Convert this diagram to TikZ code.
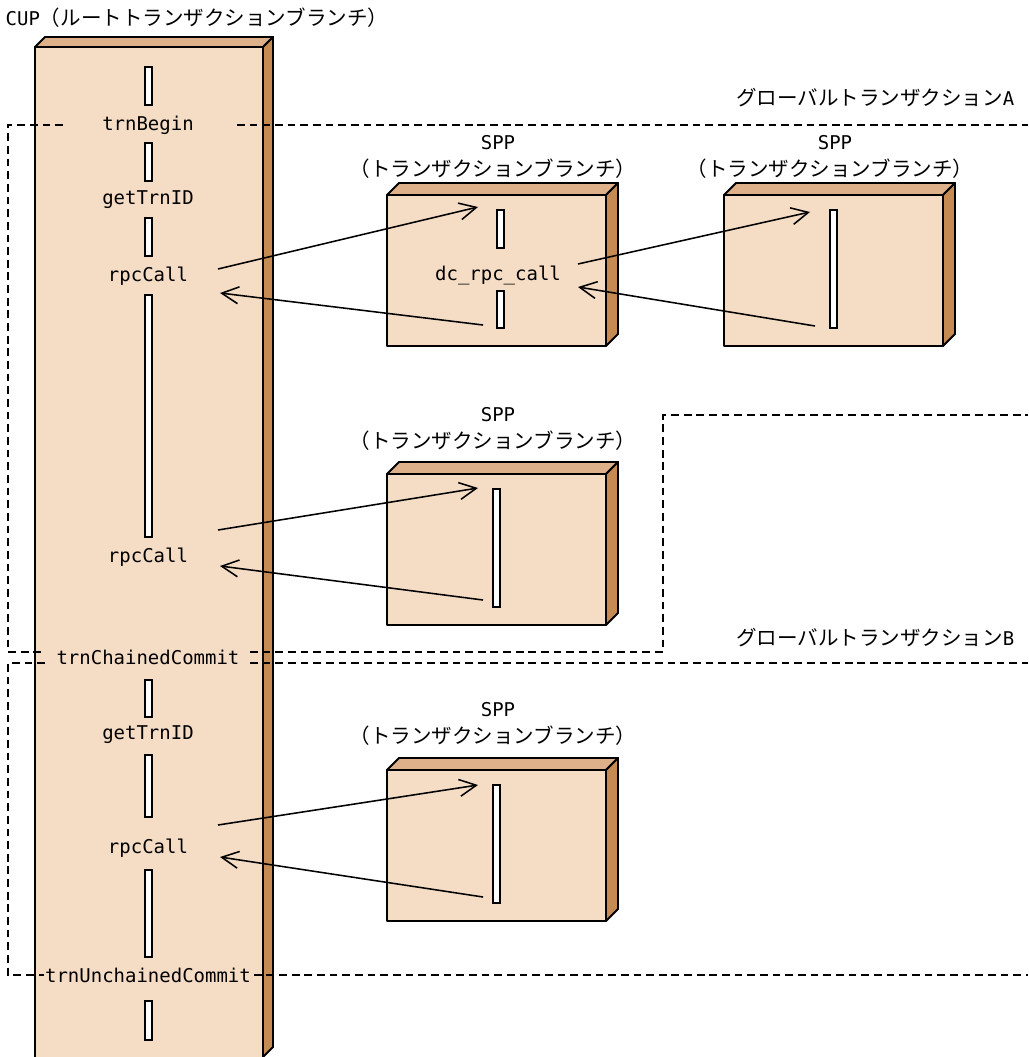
\documentclass[tikz,border=0pt]{standalone}
\usepackage{fontspec}
\setmainfont{DejaVu Sans Mono}
\newfontfamily\jpfont{Noto Sans CJK JP}
\usetikzlibrary{arrows.meta}
\definecolor{facefront}{HTML}{F5DCC5}
\definecolor{facetop}{HTML}{DEB18A}
\definecolor{faceside}{HTML}{C68A53}
\newcommand{\latn}[1]{{\rmfamily\fontsize{13.5}{16}\selectfont #1}}

\begin{document}
\begin{tikzpicture}[x=0.025cm,y=-0.025cm,
  lbl/.style={font=\fontsize{13.5}{16}\selectfont,inner sep=1pt},
  jlbl/.style={font=\jpfont\fontsize{14.6}{17}\selectfont,inner sep=1pt},
  bar/.style={draw,fill=white,line width=0.9pt},
  edge/.style={draw,line width=1.4pt,line join=round},
  txline/.style={line width=1.2pt,dash pattern=on 5.5pt off 3.5pt},
  msg/.style={-{Straight Barb[length=12pt,width=12pt]},line width=1.1pt}]
  \useasboundingbox (0,0) rectangle (1028,1057);

  % root branch
  \fill[facefront] (35,47) rectangle (263,1060);
  \draw[edge,fill=facetop] (35,47) -- (45,37) -- (273,37) -- (263,47) -- cycle;
  \draw[edge,fill=faceside] (263,47) -- (273,37) -- (273,1047) -- (263,1057) -- cycle;
  \draw[edge] (35,1060) -- (35,47) -- (263,47) -- (263,1060);
  \node[jlbl,anchor=west] (cup) at (4,18) {\latn{CUP}（ルートトランザクションブランチ）};

  \foreach \ya/\yb in {67/105,143/181,218/256,295/537,680/717,755/817,870/957,1001/1040}
    \draw[bar] (145,\ya) rectangle (152,\yb);

  % global transactions
  \draw[txline] (63,125) -- (8,125) -- (8,652) -- (45,652);
  \draw[txline] (237,125) -- (1028,125);
  \draw[txline] (250,652) -- (663,652) -- (663,415) -- (1028,415);
  \draw[txline] (45,663) -- (8,663) -- (8,975) -- (1028,975);
  \draw[txline] (250,663) -- (1028,663);
  \node[jlbl,anchor=east] (gtxa) at (1016,98) {グローバルトランザクション\latn{A}};
  \node[jlbl,anchor=east] (gtxb) at (1016,638) {グローバルトランザクション\latn{B}};

  \node[lbl] (begin) at (148,125) {trnBegin};
  \node[lbl] (getida) at (148,200) {getTrnID};
  \node[lbl] (rpca) at (148,276) {rpcCall};
  \node[lbl] (rpcb) at (148,557) {rpcCall};
  \node[lbl] (chained) at (148,657) {trnChainedCommit};
  \node[lbl] (getidb) at (148,735) {getTrnID};
  \node[lbl] (rpcc) at (148,848) {rpcCall};
  \node[lbl,fill=facefront] (unchained) at (148,975) {trnUnchainedCommit};

  % transaction branches
  \foreach \bx/\by/\ys/\yj/\nm in {387/195/143/169/sppa,724/195/143/169/sppb,
                                   387/474/415/441/sppc,387/770/710/736/sppd} {
    \draw[edge,fill=facefront] (\bx,\by) rectangle ++(219,151);
    \draw[edge,fill=facetop] (\bx,\by) -- ++(12,-12) -- ++(219,0) -- ++(-12,12) -- cycle;
    \draw[edge,fill=faceside] (\bx+219,\by) -- ++(12,-12) -- ++(0,151) -- ++(-12,12) -- cycle;
    \node[lbl] (\nm-t) at (\bx+111,\ys) {SPP};
    \node[jlbl] (\nm-s) at (\bx+106,\yj) {（トランザクションブランチ）};
  }
  \draw[bar] (497,210) rectangle (504,248);
  \draw[bar] (497,291) rectangle (504,328);
  \node[lbl] (dccall) at (498,275) {dc\_rpc\_call};
  \draw[bar] (830,210) rectangle (837,328);
  \draw[bar] (493,489) rectangle (500,607);
  \draw[bar] (493,785) rectangle (500,903);

  % message ends
  \coordinate (a1) at (218,269);  \coordinate (a2) at (478,207);
  \coordinate (a3) at (483,325);  \coordinate (a4) at (220,293);
  \coordinate (b1) at (578,264);  \coordinate (b2) at (810,212);
  \coordinate (b3) at (815,326);  \coordinate (b4) at (578,287);
  \coordinate (c1) at (218,530);  \coordinate (c2) at (478,488);
  \coordinate (c3) at (483,600);  \coordinate (c4) at (220,566);
  \coordinate (d1) at (218,825);  \coordinate (d2) at (478,785);
  \coordinate (d3) at (483,897);  \coordinate (d4) at (220,857);
  \foreach \p/\q in {a1/a2,a3/a4,b1/b2,b3/b4,c1/c2,c3/c4,d1/d2,d3/d4}
    \draw[msg] (\p) -- (\q);
\end{tikzpicture}
\end{document}
